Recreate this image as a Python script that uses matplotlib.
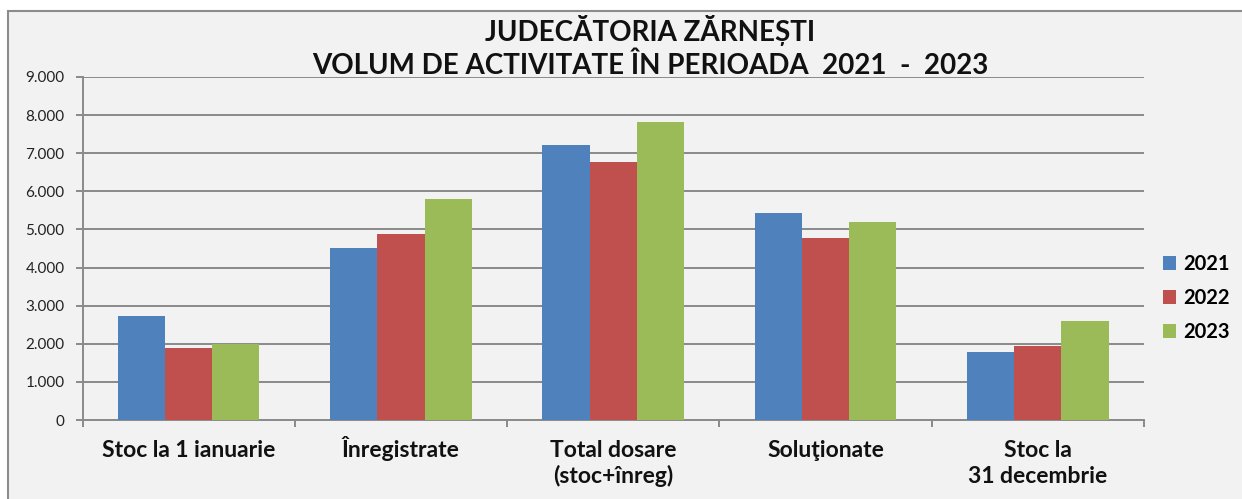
import matplotlib
matplotlib.use("Agg")
import matplotlib.pyplot as plt
from matplotlib.patches import Rectangle
import numpy as np

categories = ["Stoc la 1 ianuarie", "Înregistrate", "Total dosare\n(stoc+înreg)",
              "Soluţionate", "Stoc la\n31 decembrie"]
series_names = ["2021", "2022", "2023"]
values_2021 = [2730, 4510, 7220, 5420, 1790]
values_2022 = [1880, 4880, 6760, 4780, 1950]
values_2023 = [2000, 5790, 7830, 5200, 2600]
colors = ["#4F81BD", "#C0504D", "#9BBB59"]
yticks = [0, 1000, 2000, 3000, 4000, 5000, 6000, 7000, 8000, 9000]

plt.rcParams['font.family'] = ['Lato', 'DejaVu Sans']

fig = plt.figure(figsize=(12.42, 4.99), dpi=100)
fig.patch.set_facecolor("white")
# chart area frame
bg = Rectangle((8/1242, -0.01), 1 - 8/1242 + 0.01, 1 - 11/499 + 0.01,
               transform=fig.transFigure, facecolor="#F2F2F2",
               edgecolor="#8C8C8C", linewidth=1.5, zorder=-10)
fig.patches.append(bg)

ax = fig.add_axes([82.5/1242, 1 - 420/499, (1144 - 82.5)/1242, (420 - 77)/499])
ax.set_zorder(5)
ax.patch.set_alpha(0)

n = len(categories)
x = np.arange(n)
w = 1 / 4.5
for i, (vals, c, name) in enumerate(zip([values_2021, values_2022, values_2023], colors, series_names)):
    ax.bar(x + (i - 1) * w, vals, width=w, color=c, label=name, zorder=3)

ax.set_xlim(-0.5, n - 0.5)
ax.set_ylim(0, 9000)
ax.set_yticks(yticks)
ax.set_yticklabels([f"{v:,}".replace(",", ".") for v in yticks], fontsize=11, color="#222222")
ax.yaxis.grid(True, color="#8A8A8A", linewidth=1.4, zorder=1)
ax.set_axisbelow(True)

# category labels: each line baseline-aligned like the reference
ax.set_xticks(x)
ax.set_xticklabels([])
ax.tick_params(axis="x", length=0)
line_offsets = [26.6, 45.4]  # points below axis for baselines of line 1 and 2
for i, cat in enumerate(categories):
    for j, line in enumerate(cat.split("\n")):
        ax.annotate(line, xy=(x[i], 0), xycoords=("data", "axes fraction"),
                    xytext=(0, -line_offsets[j]), textcoords="offset points",
                    ha="center", va="baseline", fontsize=16.5, fontweight="bold",
                    color="#111111", annotation_clip=False)

ax.set_xticks(np.arange(-0.5, n, 1.0), minor=True)
ax.tick_params(axis="x", which="minor", length=5, color="#8A8A8A", width=1.4)
ax.tick_params(axis="y", length=5, color="#8A8A8A", width=1.4, pad=8)

for s in ["top", "right"]:
    ax.spines[s].set_visible(False)
for s in ["left", "bottom"]:
    ax.spines[s].set_color("#8A8A8A")
    ax.spines[s].set_linewidth(1.4)

fig.text(650/1242, 1 - 30/499, "JUDECĂTORIA ZĂRNEȘTI", ha="center", va="center",
         fontsize=20, fontweight="bold", color="#111111")
fig.text(650/1242, 1 - 66/499, "VOLUM DE ACTIVITATE ÎN PERIOADA  2021  -  2023", ha="center",
         va="center", fontsize=20, fontweight="bold", color="#111111")

leg = ax.legend(loc="center left", bbox_to_anchor=(1.005, (420 - 298) / 343), frameon=False,
                prop={"size": 14.5, "weight": "bold"}, handlelength=0.65, handleheight=0.65,
                handletextpad=0.35, labelspacing=0.7, borderaxespad=0.3)

fig.savefig("out.png", dpi=100, facecolor=fig.get_facecolor())
